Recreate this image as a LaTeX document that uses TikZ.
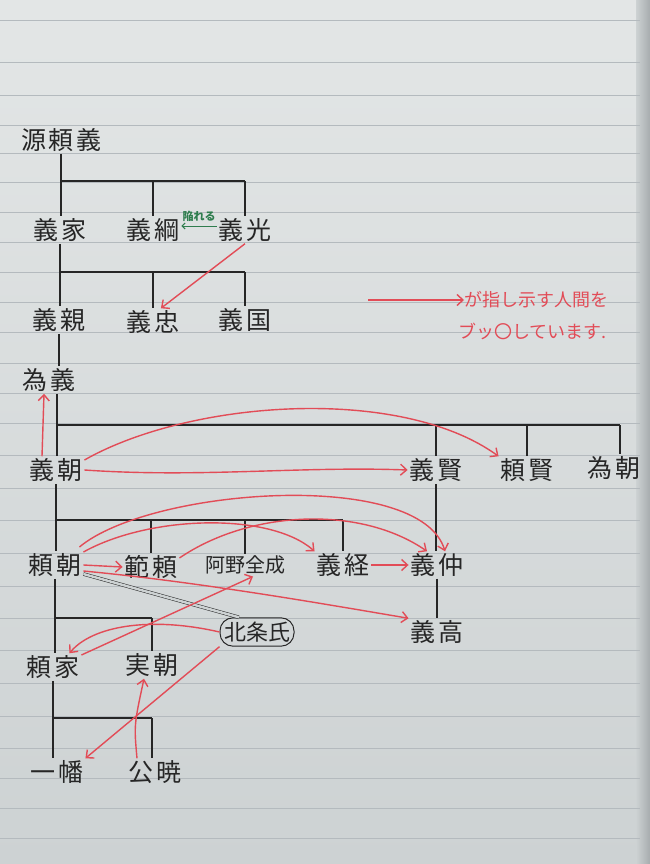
\documentclass[tikz,border=0pt]{standalone}
\usepackage{fontspec}
\newfontfamily\jp{Noto Sans CJK JP}
\newfontfamily\jpw[LetterSpace=10]{Noto Sans CJK JP}
\usetikzlibrary{arrows.meta}
\definecolor{papertop}{HTML}{E3E6E6}
\definecolor{paperbot}{HTML}{CDD2D3}
\definecolor{papershade}{HTML}{A7ACAE}
\definecolor{rulec}{HTML}{B4BABE}
\definecolor{ink}{HTML}{262626}
\definecolor{redpen}{HTML}{E24C57}
\definecolor{greenpen}{HTML}{2F7D4E}
\begin{document}
\begin{tikzpicture}[x=1pt,y=-1pt,
  person/.style={font=\jpw\fontsize{25}{25}\selectfont, text=ink, inner sep=2pt},
  smallperson/.style={font=\jp\fontsize{20}{20}\selectfont, text=ink, inner sep=2pt},
  tree/.style={draw=ink, line width=1.1pt},
  kill/.style={draw=redpen, line width=1.4pt, -{Straight Barb[length=6pt,width=11pt]}},
  greenarr/.style={draw=greenpen, line width=1pt, -{Straight Barb[length=3pt,width=6pt]}},
  greenlabel/.style={font=\jp\bfseries\fontsize{11}{11}\selectfont, text=greenpen, inner sep=0pt},
  legendtext/.style={font=\jp\fontsize{18}{18}\selectfont, text=redpen, inner sep=0pt},
  rule/.style={draw=rulec, line width=0.6pt}]
\useasboundingbox (0,0) rectangle (650,864);
% paper
\shade[top color=papertop, bottom color=paperbot] (0,0) rectangle (650,864);
\shade[left color=paperbot, right color=papershade] (636,0) rectangle (650,864);
\foreach \yy in {20,62,95,125,153,182,212,242,272,302,332,363,393,423,455,488,520,553,586,618,650,683,716,748,778,808,838}
  \draw[rule] (0,\yy) -- (640,\yy);

% bars
\coordinate (b1) at (0,181);
\coordinate (b2) at (0,272);
\coordinate (b3) at (0,425);
\coordinate (b4) at (0,520);
\coordinate (b5) at (0,618);
\coordinate (b6) at (0,718);

% persons
\node[person] (yoriyoshi) at (61,140) {源頼義};
\node[person] (yoshiie) at (60,230) {義家};
\node[person] (yoshitsuna) at (153,230) {義綱};
\node[person] (yoshimitsu) at (245,230) {義光};
\node[person] (yoshichika) at (59,320) {義親};
\node[person] (yoshitada) at (153,322) {義忠};
\node[person] (yoshikuni) at (245,320) {義国};
\node[person] (tameyoshi) at (49,380) {為義};
\node[person] (yoshitomo) at (56,470) {義朝};
\node[person] (yoshikata) at (436,470) {義賢};
\node[person] (yorikata) at (527,470) {頼賢};
\node[person] (tametomo) at (614,468) {為朝};
\node[person] (yoritomo) at (55,565) {頼朝};
\node[person] (noriyori) at (151,567) {範頼};
\node[smallperson] (zenjo) at (245,565) {阿野全成};
\node[person] (yoshitsune) at (343,565) {義経};
\node[person] (yoshinaka) at (437,565) {義仲};
\node[person] (yoshitaka) at (437,632) {義高};
\node[person, font=\jp\fontsize{22}{22}\selectfont, draw=ink, line width=1pt, rounded corners=13pt, inner sep=4pt] (hojo) at (257,632) {北条氏};
\node[person] (yoriie) at (53,667) {頼家};
\node[person] (sanetomo) at (152,665) {実朝};
\node[person] (ichiman) at (57,772) {一幡};
\node[person] (kugyo) at (155,772) {公暁};

% tree: generation of 源頼義
\draw[tree] (yoriyoshi.south) -- (yoriyoshi.south |- yoshiie.north);
\draw[tree] (yoriyoshi.south |- b1) -- (yoshimitsu.north |- b1);
\draw[tree] (yoshitsuna.north |- b1) -- (yoshitsuna.north);
\draw[tree] (yoshimitsu.north |- b1) -- (yoshimitsu.north);
% 義家
\draw[tree] (yoshiie.south) -- (yoshiie.south |- yoshichika.north);
\draw[tree] (yoshiie.south |- b2) -- (yoshikuni.north |- b2);
\draw[tree] (yoshitada.north |- b2) -- (yoshitada.north);
\draw[tree] (yoshikuni.north |- b2) -- (yoshikuni.north);
% 義親
\draw[tree] (yoshichika.south) -- (yoshichika.south |- tameyoshi.north);
% 為義
\draw[tree] ([xshift=8pt]tameyoshi.south) -- ([xshift=8pt]tameyoshi.south |- yoshitomo.north);
\draw[tree] ([xshift=8pt]tameyoshi.south |- b3) -- ([xshift=6pt]tametomo.north |- b3);
\draw[tree] (yoshikata.north |- b3) -- (yoshikata.north);
\draw[tree] (yorikata.north |- b3) -- (yorikata.north);
\draw[tree] ([xshift=6pt]tametomo.north |- b3) -- ([xshift=6pt]tametomo.north);
% 義朝
\draw[tree] (yoshitomo.south) -- (yoshitomo.south |- yoritomo.north);
\draw[tree] (yoshitomo.south |- b4) -- (yoshitsune.north |- b4);
\draw[tree] (noriyori.north |- b4) -- (noriyori.north);
\draw[tree] (zenjo.north |- b4) -- (zenjo.north);
\draw[tree] (yoshitsune.north |- b4) -- (yoshitsune.north);
% 義賢, 義仲
\draw[tree] (yoshikata.south) -- (yoshikata.south |- yoshinaka.north);
\draw[tree] (yoshinaka.south) -- (yoshinaka.south |- yoshitaka.north);
% 頼朝
\draw[tree] (yoritomo.south) -- (yoritomo.south |- yoriie.north);
\draw[tree] (yoritomo.south |- b5) -- (sanetomo.north |- b5);
\draw[tree] (sanetomo.north |- b5) -- (sanetomo.north);
% 頼家
\draw[tree] (yoriie.south) -- (yoriie.south |- ichiman.north);
\draw[tree] (yoriie.south |- b6) -- (sanetomo.south |- b6);
\draw[tree] (sanetomo.south |- b6) -- (sanetomo.south |- kugyo.north);

% 頼朝 -- 北条氏 (double line)
\draw[draw=ink, line width=0.5pt, double=paperbot, double distance=2.5pt] ([yshift=-9pt]yoritomo.east) -- ([xshift=-18pt]hojo.north);

% green
\node[greenlabel] (otoshi) at (199,216) {陥れる};
\draw[greenarr] ([yshift=4pt]yoshimitsu.west) -- ([yshift=4pt]yoshitsuna.east);

% red arrows
\draw[kill] (yoshimitsu.south) -- (yoshitada.60);
\draw[kill] ([xshift=-14pt]yoshitomo.north) -- ([xshift=-5pt]tameyoshi.south);
\draw[kill] ([yshift=10pt]yoshitomo.east) .. controls (190,400) and (400,385) .. (yorikata.north west);
\draw[kill] (yoshitomo.east) .. controls (200,478) and (300,466) .. (yoshikata.west);
\draw[kill] ([xshift=-4pt,yshift=18pt]yoritomo.east) .. controls (150,488) and (420,468) .. ([xshift=8pt]yoshinaka.north);
\draw[kill] ([yshift=13pt]yoritomo.east) .. controls (150,515) and (270,512) .. (yoshitsune.north west);
\draw[kill] ([yshift=9pt]noriyori.east) .. controls (250,510) and (360,505) .. ([xshift=-10pt]yoshinaka.north);
\draw[kill] (yoritomo.east) -- (noriyori.west);
\draw[kill] (yoshitsune.east) -- (yoshinaka.west);
\draw[kill] ([yshift=-6pt]yoritomo.east) .. controls (200,582) and (330,605) .. (yoshitaka.north west);
\draw[kill] (hojo.west) .. controls (150,616) and (92,626) .. ([xshift=-12pt]yoriie.north east);
\draw[kill] ([yshift=12pt]yoriie.east) -- ([xshift=8pt]zenjo.south);
\draw[kill] (hojo.south west) -- (ichiman.north east);
\draw[kill] ([xshift=-18pt]kugyo.north) .. controls (134,725) .. ([xshift=-8pt]sanetomo.south);

% legend
\coordinate (legendtail) at (368,300);
\node[legendtext, anchor=west] (legend1) at (464,300) {が指し示す人間を};
\node[legendtext, anchor=west] (legend2) at (458,331) {ブッ〇しています.};
\draw[kill] (legendtail) -- (legend1.west);
\end{tikzpicture}
\end{document}
